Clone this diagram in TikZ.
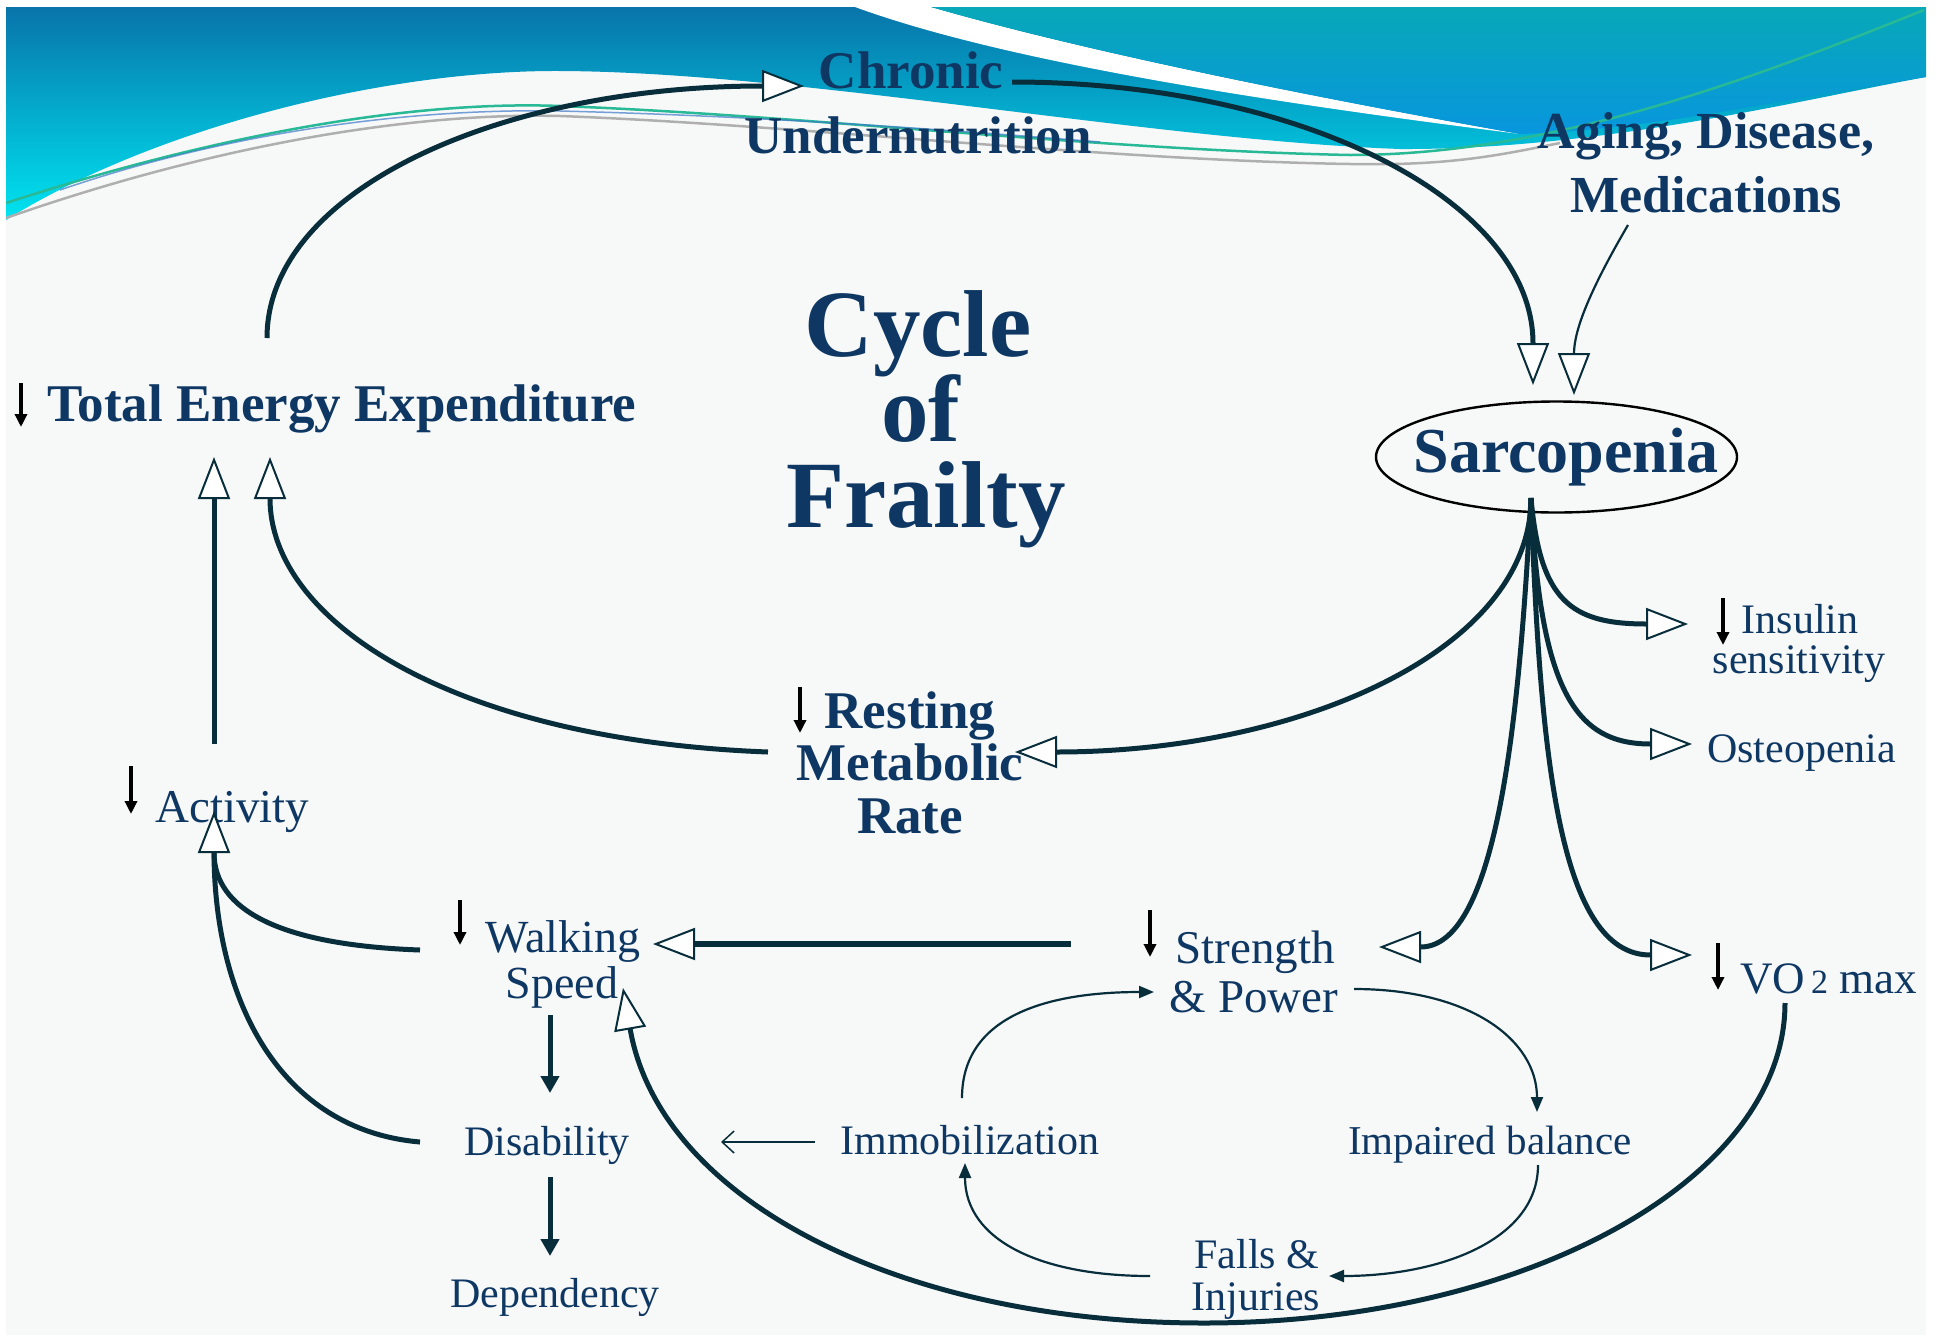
\documentclass[tikz,border=0pt]{standalone}
\usepackage{fontspec}
\setmainfont{Liberation Serif}
\usetikzlibrary{arrows.meta,shapes.geometric}
\definecolor{navy}{RGB}{14,56,99}
\definecolor{lnc}{RGB}{8,46,60}
\definecolor{pagebg}{RGB}{247,248,248}
\definecolor{bnA}{RGB}{8,116,170}
\definecolor{bnB}{RGB}{0,228,240}
\definecolor{tlA}{RGB}{8,168,184}
\definecolor{tlB}{RGB}{8,150,222}
\definecolor{decoG}{RGB}{40,185,150}
\definecolor{decoB}{RGB}{60,120,200}
\definecolor{decoY}{RGB}{175,175,175}
\newcommand{\fsz}[1]{\fontsize{#1}{#1}\selectfont}
\tikzset{
  lbl/.style={text=navy, inner sep=0pt, anchor=base},
  lblw/.style={lbl, anchor=base west},
  conn/.style={draw=lnc, line width=5pt},
  connthin/.style={draw=lnc, line width=2.2pt},
  opentip/.style={-{Triangle[length=42pt,width=32pt,fill=white,line width=2pt]}},
  smalltip/.style={-{Triangle[length=15pt,width=12pt]}},
  downmark/.style={draw=black, line width=3.5pt, -{Triangle[length=13pt,width=12pt]}},
  bigdown/.style={draw=lnc, line width=5pt, -{Triangle[length=17pt,width=18pt]}},
}
\begin{document}
\begin{tikzpicture}[x=1pt,y=-1pt]
\useasboundingbox (0,0) rectangle (1952,1339);
\fill[white] (0,0) rectangle (1952,1339);
\fill[pagebg] (6,7) rectangle (1926,1335);

% ---------- banner ----------
\shade[top color=bnA, bottom color=bnB]
  (6,7) -- (1926,7) -- (1926,77)
  .. controls (1800,100) and (1600,150) .. (1400,149)
  .. controls (1150,140) and (800,72) .. (560,71)
  .. controls (380,70) and (150,130) .. (6,220) -- cycle;
\fill[white]
  (855,7) .. controls (1000,60) and (1250,100) .. (1520,134)
  .. controls (1300,95) and (1080,50) .. (931,7) -- cycle;
\shade[top color=tlA, bottom color=tlB]
  (931,7) .. controls (1080,50) and (1300,95) .. (1520,134)
  .. controls (1650,130) and (1780,100) .. (1926,77) -- (1926,7) -- cycle;
\draw[decoG, line width=2.5pt]
  (6,203) .. controls (200,140) and (400,100) .. (560,106)
  .. controls (800,115) and (1100,150) .. (1350,155)
  .. controls (1550,155) and (1750,80) .. (1924,10);
\draw[decoY, line width=2.5pt]
  (6,218) .. controls (200,150) and (400,112) .. (560,116)
  .. controls (800,125) and (1100,160) .. (1350,164)
  .. controls (1450,166) and (1500,155) .. (1560,143);
\draw[decoB, line width=1.5pt, opacity=0.7]
  (60,190) .. controls (220,135) and (400,108) .. (560,111)
  .. controls (760,116) and (950,130) .. (1100,142);

% ---------- labels ----------
\node[lbl, font=\fsz{53}\bfseries] (chron1) at (911,88) {Chronic};
\node[lbl, font=\fsz{53}\bfseries] (chron2) at (918,153) {Undernutrition};
\node[lbl, font=\fsz{52}\bfseries] (aging1) at (1706,148) {Aging, Disease,};
\node[lbl, font=\fsz{52}\bfseries] (aging2) at (1706,212) {Medications};
\node[lbl, font=\fsz{95}\bfseries] (cyc1) at (918,356) {Cycle};
\node[lbl, font=\fsz{95}\bfseries] (cyc2) at (921,441) {of};
\node[lbl, font=\fsz{95}\bfseries] (cyc3) at (926,527) {Frailty};
\node[lblw, font=\fsz{53}\bfseries] (tee) at (47,421) {Total Energy Expenditure};
\node[ellipse, draw=black, line width=2.4pt, minimum width=361pt, minimum height=111pt, inner sep=0pt] (sarc) at (1556.5,457) {};
\node[lbl, font=\fsz{64}\bfseries] (sarct) at (1566,472) {Sarcopenia};
\node[lbl, font=\fsz{53}\bfseries] (rmr1) at (910,728) {Resting};
\node[lbl, font=\fsz{53}\bfseries] (rmr2) at (910,780) {Metabolic};
\node[lbl, font=\fsz{53}\bfseries] (rmr3) at (910,833) {Rate};
\node[lblw, font=\fsz{47}] (act) at (155,822) {Activity};
\node[lbl, font=\fsz{46}] (walk1) at (563,952) {Walking};
\node[lbl, font=\fsz{46}] (walk2) at (562,998) {Speed};
\node[lbl, font=\fsz{47}] (str1) at (1255,963) {Strength};
\node[lbl, font=\fsz{47}] (str2) at (1254,1012) {\& Power};
\node[lbl, font=\fsz{42}] (ins1) at (1800,633) {Insulin};
\node[lbl, font=\fsz{42}] (ins2) at (1799,673) {sensitivity};
\node[lblw, font=\fsz{42}] (ost) at (1707,762) {Osteopenia};
\node[lblw, font=\fsz{45}] (vo) at (1740,993) {VO\hspace{6pt}{\fsz{34}2} max};
\node[lbl, font=\fsz{42}] (dis) at (547,1155) {Disability};
\node[lbl, font=\fsz{42}] (dep) at (555,1307) {Dependency};
\node[lbl, font=\fsz{42}] (imm) at (970,1154) {Immobilization};
\node[lbl, font=\fsz{41}] (imp) at (1490,1154) {Impaired balance};
\node[lbl, font=\fsz{42}] (fall1) at (1257,1268) {Falls \&};
\node[lbl, font=\fsz{42}] (fall2) at (1256,1310) {Injuries};

% ---------- connector end points ----------
\coordinate (teeTop) at (267,338);
\coordinate (chrIn) at (804,86);
\coordinate (chrOut) at (1012,82);
\coordinate (sarIn1) at (1533,385);
\coordinate (agOut) at (1628,225);
\coordinate (sarIn2) at (1574,395);
\coordinate (sarBot) at (1531,498);
\coordinate (rmrIn) at (1015,752);
\coordinate (insIn) at (1688,624);
\coordinate (ostIn) at (1692,744);
\coordinate (strIn) at (1379,947);
\coordinate (voIn) at (1692,955);
\coordinate (rmrOut) at (768,752);
\coordinate (teeIn1) at (214,457);
\coordinate (teeIn2) at (270,457);
\coordinate (actOut) at (214,744);
\coordinate (actIn) at (214,811);
\coordinate (actBase) at (214,851);
\coordinate (walkOut) at (420,950);
\coordinate (disOut) at (420,1142);
\coordinate (strOut) at (1071,944);
\coordinate (walkIn) at (653,944);
\coordinate (voOut) at (1785,1003);
\coordinate (lowPt) at (1204,1323);
\coordinate (walkIn2) at (623,988);
\coordinate (wd1) at (550,1015);
\coordinate (wd2) at (550,1093);
\coordinate (dd1) at (550,1177);
\coordinate (dd2) at (550,1256);
\coordinate (immOut) at (815,1142);
\coordinate (disIn) at (721,1142);
\coordinate (immTop) at (962,1098);
\coordinate (strInL) at (1154,992);
\coordinate (strOutR) at (1354,989);
\coordinate (impIn) at (1537,1112);
\coordinate (impOut) at (1538,1165);
\coordinate (fallIn) at (1329,1276);
\coordinate (fallOut) at (1150,1276);
\coordinate (immIn) at (965,1163);

% ---------- connectors ----------
\draw[conn, opentip] (teeTop) .. controls (267,190) and (500,86) .. (chrIn);
\draw[conn, opentip] (chrOut) .. controls (1300,82) and (1533,200) .. (sarIn1);
\draw[connthin, opentip] (agOut) .. controls (1590,290) and (1574,330) .. (sarIn2);
\draw[conn, opentip] (sarBot) .. controls (1531,650) and (1300,752) .. (rmrIn);
\draw[conn, opentip] (sarBot) .. controls (1540,600) and (1570,624) .. (insIn);
\draw[conn, opentip] (sarBot) .. controls (1540,690) and (1575,744) .. (ostIn);
\draw[conn, opentip] (sarBot) .. controls (1520,700) and (1500,947) .. (strIn);
\draw[conn, opentip] (sarBot) .. controls (1540,760) and (1560,955) .. (voIn);
\draw[conn, opentip] (rmrOut) .. controls (450,740) and (270,620) .. (teeIn2);
\draw[conn, opentip] (actOut) -- (teeIn1);
\draw[conn] (disOut) .. controls (280,1130) and (214,1000) .. (actBase);
\draw[conn, opentip] (walkOut) .. controls (280,945) and (214,910) .. (actIn);
\draw[conn, line width=6pt, opentip] (strOut) -- (walkIn);
\draw[conn, opentip] (voOut) .. controls (1785,1180) and (1524,1323) .. (lowPt)
  .. controls (900,1323) and (660,1200) .. (walkIn2);
\draw[bigdown] (wd1) -- (wd2);
\draw[bigdown] (dd1) -- (dd2);
\draw[draw=lnc, line width=1.5pt, -{Straight Barb[length=12pt,width=22pt,line width=1.5pt]}] (immOut) -- (disIn);
\draw[connthin, smalltip] (immTop) .. controls (962,1010) and (1060,992) .. (strInL);
\draw[connthin, smalltip] (strOutR) .. controls (1470,989) and (1537,1040) .. (impIn);
\draw[connthin, smalltip] (impOut) .. controls (1538,1240) and (1440,1276) .. (fallIn);
\draw[connthin, smalltip] (fallOut) .. controls (1040,1276) and (965,1240) .. (immIn);

% ---------- small decrease marks ----------
\coordinate (m1a) at (21,383);   \coordinate (m1b) at (21,427);
\coordinate (m2a) at (800,687);  \coordinate (m2b) at (800,733);
\coordinate (m3a) at (131,766);  \coordinate (m3b) at (131,814);
\coordinate (m4a) at (460,900);  \coordinate (m4b) at (460,945);
\coordinate (m5a) at (1150,910); \coordinate (m5b) at (1150,957);
\coordinate (m6a) at (1723,598); \coordinate (m6b) at (1723,645);
\coordinate (m7a) at (1718,943); \coordinate (m7b) at (1718,990);
\draw[downmark] (m1a) -- (m1b);
\draw[downmark] (m2a) -- (m2b);
\draw[downmark] (m3a) -- (m3b);
\draw[downmark] (m4a) -- (m4b);
\draw[downmark] (m5a) -- (m5b);
\draw[downmark] (m6a) -- (m6b);
\draw[downmark] (m7a) -- (m7b);
\end{tikzpicture}
\end{document}
